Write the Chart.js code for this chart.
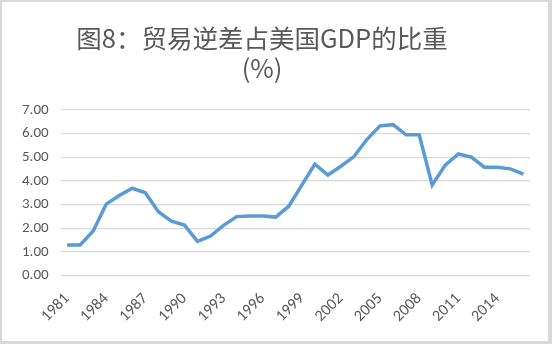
<!DOCTYPE html>
<html>
<head>
<meta charset="utf-8">
<script src="https://cdn.jsdelivr.net/npm/chart.js@4"></script>
<style>
  html, body { margin: 0; padding: 0; background: #fff; }
  #frame {
    width: 552px; height: 344px; box-sizing: border-box;
    border-top: 2px solid #d9d9d9; border-left: 2px solid #d9d9d9;
    border-bottom: 3px solid #d9d9d9; border-right: 4px solid #d9d9d9;
    background: #fff; position: relative;
  }
  #wrap { position: absolute; left: 0; top: 0; width: 546px; height: 339px; }
</style>
</head>
<body>
<div id="frame"><div id="wrap"><canvas id="chart"></canvas></div></div>
<script>
// 年份
const years = [];
for (let y = 1981; y <= 2016; y++) years.push(String(y));

// 贸易逆差占GDP比重 (%)
const deficitPct = [
  1.29, 1.29, 1.88, 3.02, 3.38, 3.69, 3.50, 2.70, 2.30, 2.13,
  1.44, 1.67, 2.12, 2.49, 2.52, 2.52, 2.47, 2.93, 3.82, 4.71,
  4.25, 4.62, 5.03, 5.76, 6.33, 6.38, 5.95, 5.95, 3.83, 4.67,
  5.14, 5.01, 4.58, 4.58, 4.51, 4.29
];

const titleLines = ['图8：贸易逆差占美国GDP的比重', '(%)'];
const labelFont = 'Carlito, Calibri, "Liberation Sans", "Noto Sans", sans-serif';

// title drawn a bit left of centre, like the Excel original
const titlePlugin = {
  id: 'excelTitle',
  afterDraw(chart) {
    const c = chart.ctx;
    c.save();
    c.fillStyle = '#595959';
    c.font = '25.5px "Noto Sans CJK SC", "Noto Sans", sans-serif';
    c.textAlign = 'center';
    c.textBaseline = 'middle';
    c.fillText(titleLines[0], 260, 36);
    c.fillText(titleLines[1], 260, 66);
    c.restore();
  }
};

const ctx = document.getElementById('chart');
new Chart(ctx, {
  type: 'line',
  data: {
    labels: years,
    datasets: [{
      data: deficitPct,
      borderColor: '#5b9bd5',
      borderWidth: 3.5,
      pointRadius: 0,
      tension: 0,
      fill: false
    }]
  },
  plugins: [titlePlugin],
  options: {
    responsive: true,
    maintainAspectRatio: false,
    animation: false,
    layout: { padding: { left: 8, right: 18, top: 108, bottom: 9 } },
    plugins: {
      legend: { display: false },
      tooltip: { enabled: false },
      title: { display: false }
    },
    scales: {
      x: {
        offset: true,
        grid: { display: false },
        border: { display: false },
        ticks: {
          autoSkip: false,
          maxRotation: 45,
          minRotation: 45,
          color: '#595959',
          font: { family: labelFont, size: 16 },
          padding: 6,
          callback: function(val, idx) {
            return (idx % 3 === 0) ? years[idx] : '';
          }
        }
      },
      y: {
        min: 0,
        max: 7,
        grid: { color: '#d9d9d9', lineWidth: 1.3, drawTicks: false },
        border: { display: false },
        ticks: {
          stepSize: 1,
          color: '#595959',
          padding: 12,
          font: { family: labelFont, size: 15 },
          callback: function(v) { return Number(v).toFixed(2); }
        }
      }
    }
  }
});
</script>
</body>
</html>
